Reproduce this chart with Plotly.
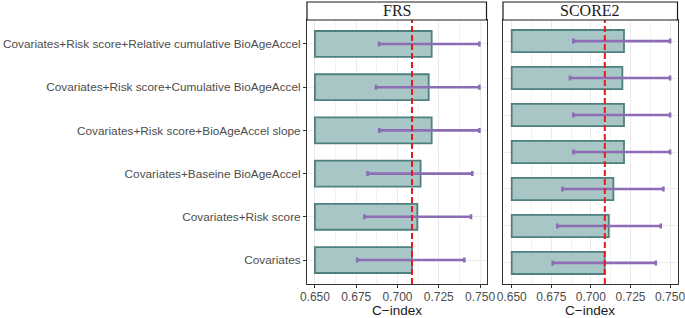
import plotly.graph_objects as go

# ---------------- data ----------------
frs_labels = [
    "Covariates",
    "Covariates+Risk score",
    "Covariates+Baseine BioAgeAccel",
    "Covariates+Risk score+BioAgeAccel slope",
    "Covariates+Risk score+Cumulative BioAgeAccel",
    "Covariates+Risk score+Relative cumulative BioAgeAccel",
]
frs_cindex = [0.7088, 0.7120, 0.7140, 0.7207, 0.7189, 0.7207]
frs_lower = [0.6756, 0.6799, 0.6819, 0.6890, 0.6870, 0.6888]
frs_upper = [0.7405, 0.7445, 0.7453, 0.7496, 0.7496, 0.7496]

score2_cindex = [0.7087, 0.7113, 0.7142, 0.7209, 0.7209, 0.7199, 0.7209]
score2_lower = [0.6759, 0.6788, 0.6820, 0.6889, 0.6889, 0.6868, 0.6889]
score2_upper = [0.7410, 0.7441, 0.7458, 0.7500, 0.7500, 0.7500, 0.7500]

x_ticks = [0.650, 0.675, 0.700, 0.725, 0.750]
x_ticktext = ["0.650", "0.675", "0.700", "0.725", "0.750"]
bar_base = 0.65
panel_titles = ["FRS", "SCORE2"]
x_title = "C\u2212index"

# ---------------- style ----------------
W, H = 685, 318
FILL = "#a9c6c6"
EDGE = "#4f8080"
PURPLE = "#8b6cb5"
RED = "#e41a1c"
GRID = "#ebebeb"
MINOR = "#f3f3f3"
BORDER = "#333333"
TXT = "#4d4d4d"
FONT = "Liberation Sans, Arial, sans-serif"

def px_x(p):
    return p / W

def px_y(p):
    return 1 - p / H

panel_top, panel_bot = 20, 284
ydom = [px_y(panel_bot), px_y(panel_top)]
frs_dom = [px_x(307), px_x(486.5)]
sc_dom = [px_x(503), px_x(677.5)]

fig = go.Figure()

def add_panel(cidx, lo, hi, xa, ya):
    n = len(cidx)
    pos = list(range(n))
    fig.add_trace(go.Bar(
        y=pos, x=[c - bar_base for c in cidx], base=bar_base,
        orientation="h", width=0.6,
        marker=dict(color=FILL, line=dict(color=EDGE, width=1.8)),
        xaxis=xa, yaxis=ya, showlegend=False, hoverinfo="skip",
    ))
    fig.add_trace(go.Scatter(
        y=pos, x=cidx, mode="markers",
        marker=dict(size=0.1, color="rgba(0,0,0,0)"),
        error_x=dict(type="data", symmetric=False,
                     array=[h - c for h, c in zip(hi, cidx)],
                     arrayminus=[c - l for c, l in zip(cidx, lo)],
                     color=PURPLE, thickness=2.6, width=2.5),
        xaxis=xa, yaxis=ya, showlegend=False, hoverinfo="skip",
    ))
    return n

n1 = add_panel(frs_cindex, frs_lower, frs_upper, "x", "y")
n2 = add_panel(score2_cindex, score2_lower, score2_upper, "x2", "y2")

ref_line = frs_cindex[0]

xcommon = dict(
    tickvals=x_ticks, ticktext=x_ticktext,
    showgrid=True, gridcolor=GRID, gridwidth=1,
    minor=dict(showgrid=True, gridcolor=MINOR, gridwidth=0.6, dtick=0.0125, tick0=0.65),
    zeroline=False,
    showline=True, linecolor=BORDER, linewidth=1, mirror=True,
    ticks="outside", ticklen=3, tickcolor=BORDER, tickwidth=1,
    tickfont=dict(family=FONT, size=12, color=TXT),
    ticklabeloverflow="allow",
    ticklabelstandoff=-1,
    automargin=False,
)

fig.update_layout(
    width=W, height=H,
    margin=dict(l=0, r=0, t=0, b=0),
    paper_bgcolor="white", plot_bgcolor="white",
    barmode="overlay",
    xaxis=dict(domain=frs_dom, range=[0.6452, 0.7539], anchor="y", **xcommon),
    xaxis2=dict(domain=sc_dom, range=[0.6445, 0.7547], anchor="y2", **xcommon),
    yaxis=dict(domain=ydom, range=[-0.555, n1 - 1 + 0.555], anchor="x",
               tickvals=list(range(n1)), ticktext=frs_labels,
               showgrid=True, gridcolor=GRID, gridwidth=1, zeroline=False,
               showline=True, linecolor=BORDER, linewidth=1, mirror=True,
               ticks="outside", ticklen=3, tickcolor=BORDER,
               tickfont=dict(family=FONT, size=11.8, color=TXT), automargin=False),
    yaxis2=dict(domain=ydom, range=[-0.57, n2 - 1 + 0.57], anchor="x2",
                tickvals=list(range(n2)), showticklabels=False,
                showgrid=True, gridcolor=GRID, gridwidth=1, zeroline=False,
                showline=True, linecolor=BORDER, linewidth=1, mirror=True,
                ticks="", automargin=False),
)

# reference lines
for xa, ya in [("x", "y domain"), ("x2", "y2 domain")]:
    fig.add_shape(type="line", xref=xa, yref=ya, x0=ref_line, x1=ref_line, y0=0, y1=1,
                  line=dict(color=RED, width=2, dash="6px,3px"), layer="above")

# strips and axis titles
for dom, title in zip([frs_dom, sc_dom], panel_titles):
    fig.add_shape(type="rect", xref="paper", yref="paper",
                  x0=dom[0], x1=dom[1], y0=px_y(panel_top), y1=px_y(2),
                  line=dict(color="#1a1a1a", width=1.2), fillcolor="white")
    fig.add_annotation(xref="paper", yref="paper", x=(dom[0] + dom[1]) / 2,
                       y=(px_y(panel_top) + px_y(2)) / 2, text=title, showarrow=False,
                       font=dict(family="Liberation Serif, Times New Roman, serif", size=16, color="#1a1a1a"),
                       xanchor="center", yanchor="middle")
    fig.add_annotation(xref="paper", yref="paper", x=(dom[0] + dom[1]) / 2,
                       y=px_y(310.5), text=x_title, showarrow=False,
                       font=dict(family=FONT, size=13.5, color="#1a1a1a"),
                       xanchor="center", yanchor="middle")

fig.write_html("out.html", config={"displayModeBar": False},
               post_script="document.body.style.margin='0';document.body.style.overflow='hidden';")
